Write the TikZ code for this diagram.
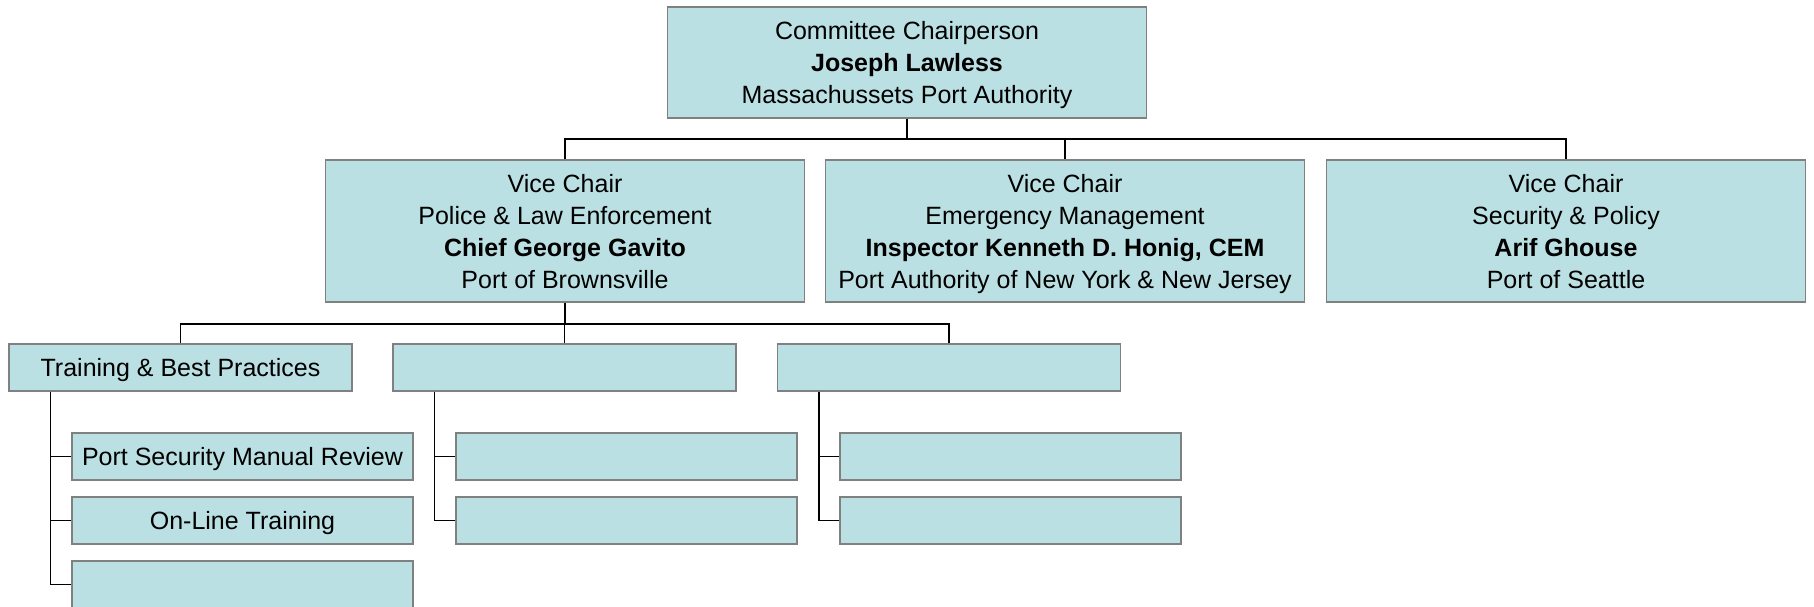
\documentclass[tikz,border=0pt]{standalone}
\usepackage{fontspec}
\setmainfont{Liberation Sans}
\usetikzlibrary{positioning}
\definecolor{boxblue}{HTML}{BBE0E3}
\definecolor{boxgray}{HTML}{808080}

\begin{document}
\begin{tikzpicture}[
    x=0.5pt,y=-0.5pt,
    box/.style = {draw=boxgray,line width=0.75pt,fill=boxblue,align=center,
      inner sep=0pt,text depth=0pt,font=\fontsize{12.5}{16}\selectfont},
    chairbox/.style = {box,minimum width=239.5pt,minimum height=55.5pt},
    vicebox/.style = {box,minimum width=239.5pt,minimum height=71pt},
    grpbox/.style = {box,minimum width=171.5pt,minimum height=23.5pt},
    subbox/.style = {box,minimum width=170.5pt,minimum height=23.5pt},
    link/.style = {black,line width=0.75pt}
    ]
    \useasboundingbox (0,0) rectangle (1814,606);
    % Chairperson
    \node[chairbox] (chair) at (907,62.5)
      {Committee Chairperson\\ \textbf{Joseph Lawless}\\ Massachussets Port Authority};
    % Vice chairs
    \node[vicebox] (vice1) at (565,231)
      {Vice Chair\\ Police \& Law Enforcement\\ \textbf{Chief George Gavito}\\ Port of Brownsville};
    \node[vicebox] (vice2) at (1065,231)
      {Vice Chair\\ Emergency Management\\ \textbf{Inspector Kenneth D. Honig, CEM}\\ Port Authority of New York \& New Jersey};
    \node[vicebox] (vice3) at (1566,231)
      {Vice Chair\\ Security \& Policy\\ \textbf{Arif Ghouse}\\ Port of Seattle};
    % Groups
    \node[grpbox] (grp1) at (180.5,367.5) {Training \& Best Practices};
    \node[grpbox] (grp2) at (564.5,367.5) {};
    \node[grpbox] (grp3) at (949,367.5) {};
    % Subgroups
    \node[subbox] (sub1-1) at (242.5,456.5) {Port Security Manual Review};
    \node[subbox,below=7.75pt of sub1-1] (sub1-2) {On-Line Training};
    \node[subbox,below=7.75pt of sub1-2] (sub1-3) {};
    \foreach \g/\x in {2/626.5,3/1010.5} {
      \node[subbox] (sub\g-1) at (\x,456.5) {};
      \node[subbox,below=7.75pt of sub\g-1] (sub\g-2) {};
    }
    % Connectors
    \coordinate (bus1) at (0,139);
    \coordinate (bus2) at (0,324);
    \foreach \v in {1,2,3}
      \draw[link] (chair.south) -- (chair.south |- bus1) -| (vice\v.north);
    \foreach \g in {1,2,3}
      \draw[link] (vice1.south) -- (vice1.south |- bus2) -| (grp\g.north);
    \foreach \k in {1,2,3}
      \draw[link] ([xshift=21pt]grp1.south west) |- (sub1-\k.west);
    \foreach \g in {2,3}
      \foreach \k in {1,2}
        \draw[link] ([xshift=21pt]grp\g.south west) |- (sub\g-\k.west);
\end{tikzpicture}
\end{document}
